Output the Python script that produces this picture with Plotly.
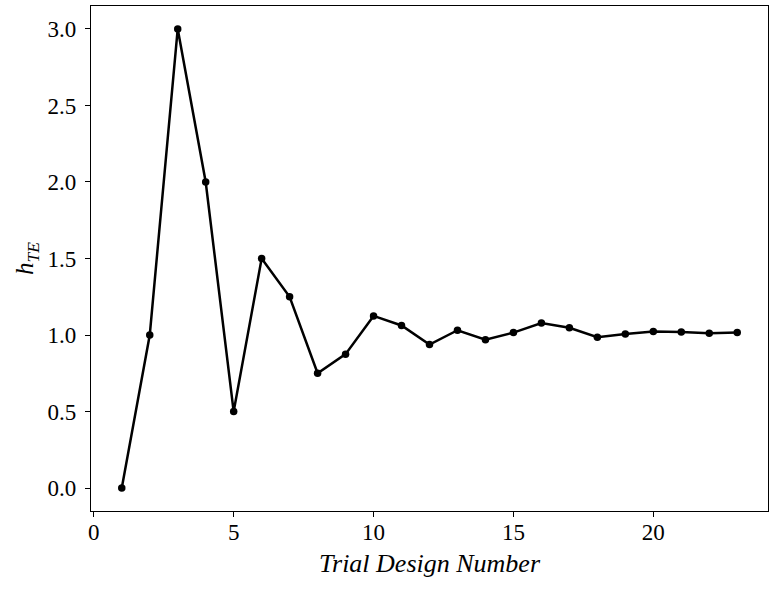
import plotly.graph_objects as go

trial = list(range(1, 24))
h_te = [0.0, 1.0, 3.0, 2.0, 0.5, 1.5, 1.25, 0.75, 0.875, 1.125, 1.0625, 0.9375,
        1.03125, 0.96875, 1.016, 1.078, 1.047, 0.986, 1.007, 1.023, 1.019, 1.012, 1.017]
x_ticks = [0, 5, 10, 15, 20]
y_ticks = [0.0, 0.5, 1.0, 1.5, 2.0, 2.5, 3.0]
y_ticklabels = ["0.0", "0.5", "1.0", "1.5", "2.0", "2.5", "3.0"]

font_family = "Liberation Serif, DejaVu Serif, serif"

fig = go.Figure()
fig.add_trace(go.Scatter(
    x=trial, y=h_te, mode="lines+markers",
    line=dict(color="black", width=2.5),
    marker=dict(color="black", size=7.5),
    showlegend=False,
))

fig.update_layout(
    width=769, height=592,
    margin=dict(l=91, r=1, t=6, b=81),
    paper_bgcolor="white", plot_bgcolor="white",
    font=dict(family=font_family, size=23, color="black"),
    xaxis=dict(
        range=[-0.1, 24.1], tickvals=x_ticks, ticktext=[str(v) for v in x_ticks],
        showgrid=False, zeroline=False, showline=True, linecolor="black", linewidth=1.3,
        mirror=True, ticks="outside", ticklen=5, tickwidth=1.2, tickcolor="black",
        ticklabelstandoff=-5,
        title=dict(text="<i>Trial Design Number</i>", font=dict(size=26, family=font_family), standoff=10),
        tickfont=dict(size=23, family=font_family),
    ),
    yaxis=dict(
        range=[-0.15, 3.15], tickvals=y_ticks, ticktext=y_ticklabels,
        showgrid=False, zeroline=False, showline=True, linecolor="black", linewidth=1.3,
        mirror=True, ticks="outside", ticklen=5, tickwidth=1.2, tickcolor="black",
        ticklabelstandoff=4,
        title=dict(text="<i>h</i><sub><i>TE</i></sub>", font=dict(size=25, family=font_family), standoff=6),
        tickfont=dict(size=23, family=font_family),
    ),
)

fig.write_html("out.html")
